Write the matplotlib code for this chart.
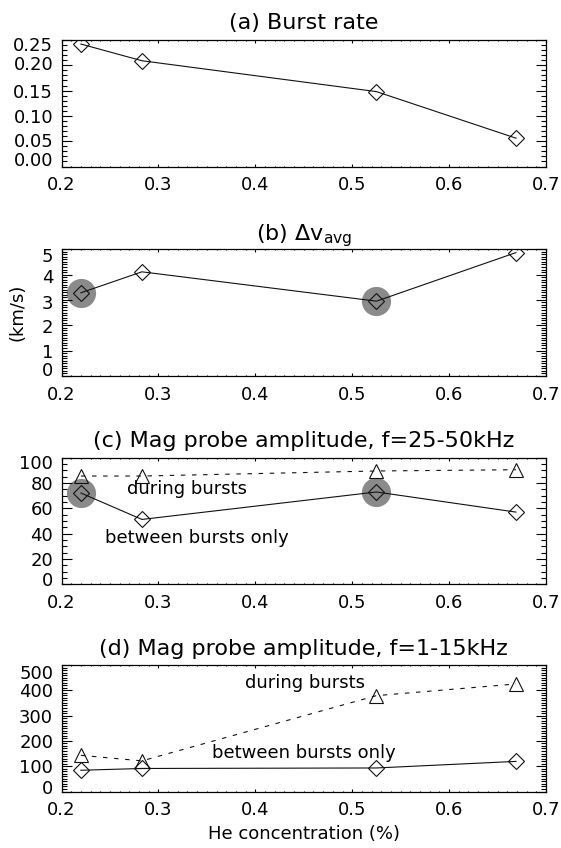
import matplotlib
matplotlib.use('Agg')
import matplotlib.pyplot as plt
from matplotlib.ticker import MultipleLocator
from matplotlib.transforms import ScaledTranslation

# ---- data ----
he_conc = [0.220, 0.283, 0.525, 0.669]
burst_rate = [0.242, 0.209, 0.148, 0.056]
dv_avg = [3.28, 4.11, 2.95, 4.87]
mag_hi_between = [72.1, 51.2, 72.9, 57.0]
mag_hi_during = [85.5, 85.5, 89.5, 90.5]
mag_lo_between = [84, 91, 93, 119]
mag_lo_during = [143, 121, 379, 425]
highlight_idx = [0, 2]

titles = ["(a) Burst rate",
          r"(b) $\Delta$v$_{\mathrm{avg}}$",
          "(c) Mag probe amplitude, f=25-50kHz",
          "(d) Mag probe amplitude, f=1-15kHz"]
x_ticks = [0.2, 0.3, 0.4, 0.5, 0.6, 0.7]
a_ticks = [0.00, 0.05, 0.10, 0.15, 0.20, 0.25]
b_ticks = [0, 1, 2, 3, 4, 5]
c_ticks = [0, 20, 40, 60, 80, 100]
d_ticks = [0, 100, 200, 300, 400, 500]
a_labels = ["0.00", "0.05", "0.10", "0.15", "0.20", "0.25"]
b_labels = ["0", "1", "2", "3", "4", "5"]
c_labels = ["0", "20", "40", "60", "80", "100"]
d_labels = ["0", "100", "200", "300", "400", "500"]

plt.rcParams['font.family'] = ['DejaVu Sans']
plt.rcParams['mathtext.fontset'] = 'dejavusans'

W, H = 561, 848
fig = plt.figure(figsize=(W / 100, H / 100), dpi=100)

ax_left = 61.5 / W
ax_w = 484.5 / W
ax_h = 126.5 / H
tops = [40, 249.3, 457.7, 665]

axes = []
for t in tops:
    axes.append(fig.add_axes([ax_left, 1 - (t + 126.5) / H, ax_w, ax_h]))

LINE = '#111111'
GRAY = '#8a8a8a'
DASH = (0, (4, 6))


def style(ax, yticks, ylabels, yminor, offsets):
    ax.set_xlim(0.2, 0.7)
    ax.set_ylim(yticks[0], yticks[-1])
    ax.set_xticks(x_ticks)
    ax.set_xticklabels([f"{v:.1f}" for v in x_ticks])
    ax.xaxis.set_minor_locator(MultipleLocator(0.01))
    ax.set_yticks(yticks)
    ax.set_yticklabels(ylabels)
    ax.yaxis.set_minor_locator(MultipleLocator(yminor))
    ax.tick_params(axis='both', which='both', direction='in', top=True,
                   right=True, colors='black', labelsize=13, width=0.8)
    ax.tick_params(axis='x', which='major', length=1.9, pad=7)
    ax.tick_params(axis='x', which='minor', length=1.0)
    ax.tick_params(axis='y', which='major', length=7, pad=6)
    ax.tick_params(axis='y', which='minor', length=3.5)
    for s in ax.spines.values():
        s.set_linewidth(0.9)
    for lab, dy in zip(ax.get_yticklabels(), offsets):
        lab.set_transform(lab.get_transform() +
                          ScaledTranslation(0, dy / 100, fig.dpi_scale_trans))


def highlight(ax, yvals):
    ax.plot([he_conc[i] for i in highlight_idx], [yvals[i] for i in highlight_idx],
            linestyle='none', marker='o', markersize=21, color=GRAY,
            markeredgewidth=0, zorder=1)


DIA = dict(marker='D', markersize=8, mfc='none', mec=LINE, mew=0.8)
TRI = dict(marker='^', markersize=9.5, mfc='none', mec=LINE, mew=0.8)

# (a)
ax = axes[0]
ax.plot(he_conc, burst_rate, color=LINE, lw=0.8, zorder=3, **DIA)
style(ax, a_ticks, a_labels, 0.01, [8, 1.2, 0, -0.7, 2.5, -4])
ax.set_title(titles[0], fontsize=16, pad=8)

# (b)
ax = axes[1]
highlight(ax, dv_avg)
ax.plot(he_conc, dv_avg, color=LINE, lw=0.8, zorder=3, **DIA)
style(ax, b_ticks, b_labels, 0.1, [7.3, -1, -1, -1.7, -1.7, -5.7])
ax.set_title(titles[1], fontsize=16, pad=5)
ax.set_ylabel("(km/s)", fontsize=13)
ax.yaxis.set_label_coords(-0.072, 0.5)

# (c)
ax = axes[2]
highlight(ax, mag_hi_between)
ax.plot(he_conc, mag_hi_during, color=LINE, lw=0.8, ls=DASH, zorder=3, **TRI)
ax.plot(he_conc, mag_hi_between, color=LINE, lw=0.8, zorder=3, **DIA)
style(ax, c_ticks, c_labels, 5, [5.6, 0, 0, 0, 0, -4.6])
ax.set_title(titles[2], fontsize=16, pad=8)
ax.text(0.330, 75.6, "during bursts", fontsize=13, ha='center', va='center')
ax.text(0.340, 36.6, "between bursts only", fontsize=13, ha='center', va='center')

# (d)
ax = axes[3]
ax.plot(he_conc, mag_lo_during, color=LINE, lw=0.8, ls=DASH, zorder=3, **TRI)
ax.plot(he_conc, mag_lo_between, color=LINE, lw=0.8, zorder=3, **DIA)
style(ax, d_ticks, d_labels, 10, [5, 0, 0, 0, 0, -7])
ax.set_title(titles[3], fontsize=16, pad=7)
ax.text(0.451, 428, "during bursts", fontsize=13, ha='center', va='center')
ax.text(0.450, 153, "between bursts only", fontsize=13, ha='center', va='center')
ax.set_xlabel("He concentration (%)", fontsize=13, labelpad=4)

fig.savefig("out.png", dpi=100)
